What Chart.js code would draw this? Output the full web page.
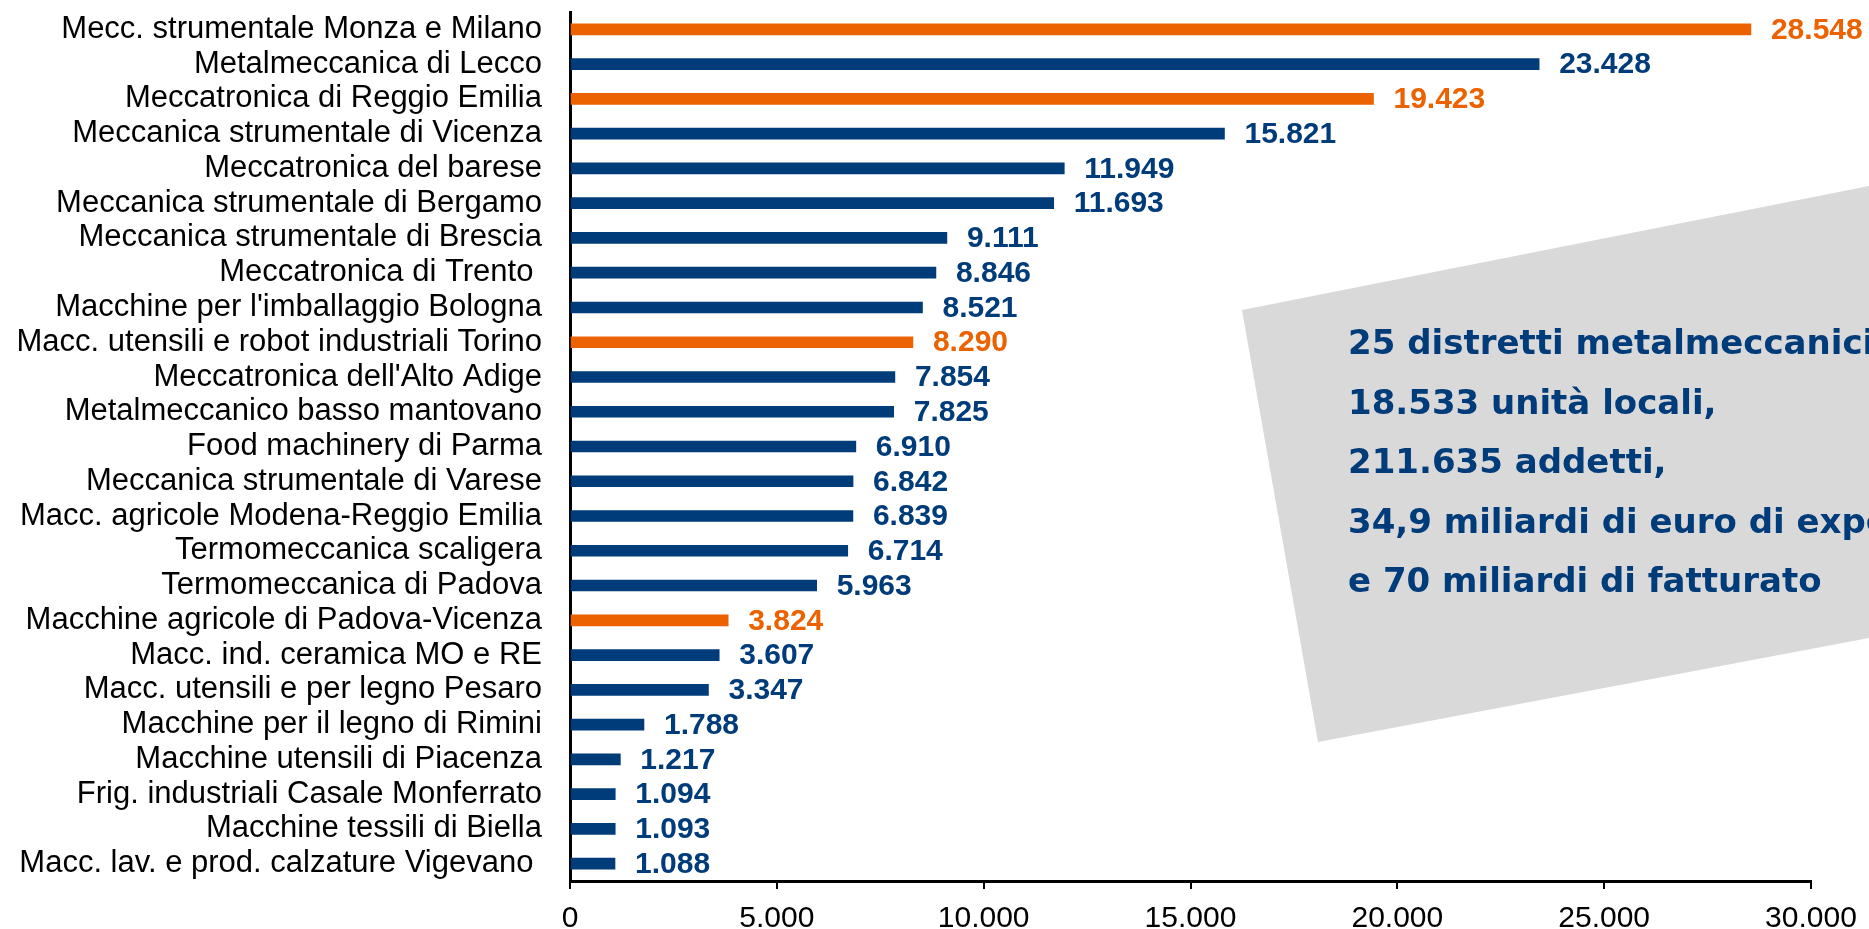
<!DOCTYPE html>
<html>
<head>
<meta charset="utf-8">
<script src="https://cdn.jsdelivr.net/npm/chart.js@4.4.1/dist/chart.umd.min.js"></script>
<style>
body{margin:0;background:#fff;}
canvas{display:block;}
</style>
</head>
<body>
<canvas id="myChart" width="1869" height="929"></canvas>
<script>
const labels = [
    'Mecc. strumentale Monza e Milano',
    'Metalmeccanica di Lecco',
    'Meccatronica di Reggio Emilia',
    'Meccanica strumentale di Vicenza',
    'Meccatronica del barese',
    'Meccanica strumentale di Bergamo',
    'Meccanica strumentale di Brescia',
    'Meccatronica di Trento ',
    "Macchine per l'imballaggio Bologna",
    'Macc. utensili e robot industriali Torino',
    "Meccatronica dell'Alto Adige",
    'Metalmeccanico basso mantovano',
    'Food machinery di Parma',
    'Meccanica strumentale di Varese',
    'Macc. agricole Modena-Reggio Emilia',
    'Termomeccanica scaligera',
    'Termomeccanica di Padova',
    'Macchine agricole di Padova-Vicenza',
    'Macc. ind. ceramica MO e RE',
    'Macc. utensili e per legno Pesaro',
    'Macchine per il legno di Rimini',
    'Macchine utensili di Piacenza',
    'Frig. industriali Casale Monferrato',
    'Macchine tessili di Biella',
    'Macc. lav. e prod. calzature Vigevano '
];
const values = [28548, 23428, 19423, 15821, 11949, 11693, 9111, 8846, 8521, 8290, 7854, 7825, 6910, 6842, 6839, 6714, 5963, 3824, 3607, 3347, 1788, 1217, 1094, 1093, 1088];
// districts drawn in orange
const highlighted = [
    'Mecc. strumentale Monza e Milano',
    'Meccatronica di Reggio Emilia',
    'Macc. utensili e robot industriali Torino',
    'Macchine agricole di Padova-Vicenza'
];
const xTicks = [0, 5000, 10000, 15000, 20000, 25000, 30000];
const boxLines = [
    '25 distretti metalmeccanici',
    '18.533 unità locali,',
    '211.635 addetti,',
    '34,9 miliardi di euro di export',
    'e 70 miliardi di fatturato'
];

const navy = '#003B7A';
const orange = '#EC6200';
const colors = labels.map(l => highlighted.includes(l) ? orange : navy);

function fmt(v){
    return String(v).replace(/\B(?=(\d{3})+(?!\d))/g, '.');
}

const boxPlugin = {
    id: 'box',
    beforeDatasetsDraw(chart){
        const c = chart.ctx;
        c.save();
        c.fillStyle = '#D9D9D9';
        c.beginPath();
        c.moveTo(1242, 310);
        c.lineTo(1869, 186);
        c.lineTo(1869, 638);
        c.lineTo(1318, 742);
        c.closePath();
        c.fill();
        c.restore();
    },
    afterDraw(chart){
        const c = chart.ctx;
        c.save();
        c.fillStyle = navy;
        c.font = 'bold 34px "DejaVu Sans"';
        c.textBaseline = 'alphabetic';
        c.textAlign = 'left';
        boxLines.forEach((t, i) => {
            c.fillText(t, 1348, 354 + i * 59.5);
        });
        c.restore();
    }
};

const valuePlugin = {
    id: 'values',
    afterDatasetsDraw(chart){
        const c = chart.ctx;
        const meta = chart.getDatasetMeta(0);
        c.save();
        c.font = 'bold 30px "Liberation Sans", Arial, sans-serif';
        c.textBaseline = 'middle';
        c.textAlign = 'left';
        meta.data.forEach((bar, i) => {
            c.fillStyle = colors[i];
            c.fillText(fmt(values[i]), bar.x + 20, bar.y + 1);
        });
        c.restore();
    }
};

const myChart = new Chart(document.getElementById('myChart'), {
    type: 'bar',
    data: {
        labels: labels,
        datasets: [{
            data: values,
            backgroundColor: colors,
            barThickness: 11
        }]
    },
    options: {
        indexAxis: 'y',
        responsive: false,
        animation: false,
        layout: {padding: {top: 12, right: 58, left: 0, bottom: 0}},
        plugins: {legend: {display: false}, tooltip: {enabled: false}},
        scales: {
            x: {
                min: 0,
                max: 30000,
                afterBuildTicks: s => { s.ticks = xTicks.map(v => ({value: v})); },
                ticks: {
                    color: '#000',
                    font: {family: '"Liberation Sans", Arial, sans-serif', size: 30},
                    padding: 12,
                    maxRotation: 0,
                    callback: v => fmt(v)
                },
                grid: {drawOnChartArea: false, color: '#000', lineWidth: 2, tickLength: 8},
                border: {color: '#000', width: 3},
                afterFit: s => { s.height = 48; s.paddingLeft = 0; s.paddingRight = 0; }
            },
            y: {
                ticks: {
                    color: '#000',
                    font: {family: '"Liberation Sans", Arial, sans-serif', size: 31},
                    padding: 28,
                    autoSkip: false
                },
                grid: {display: false, drawTicks: false},
                border: {color: '#000', width: 3},
                afterFit: s => { s.width = 570; s.paddingTop = 0; s.paddingBottom = 0; }
            }
        }
    },
    plugins: [boxPlugin, valuePlugin]
});
</script>
</body>
</html>
